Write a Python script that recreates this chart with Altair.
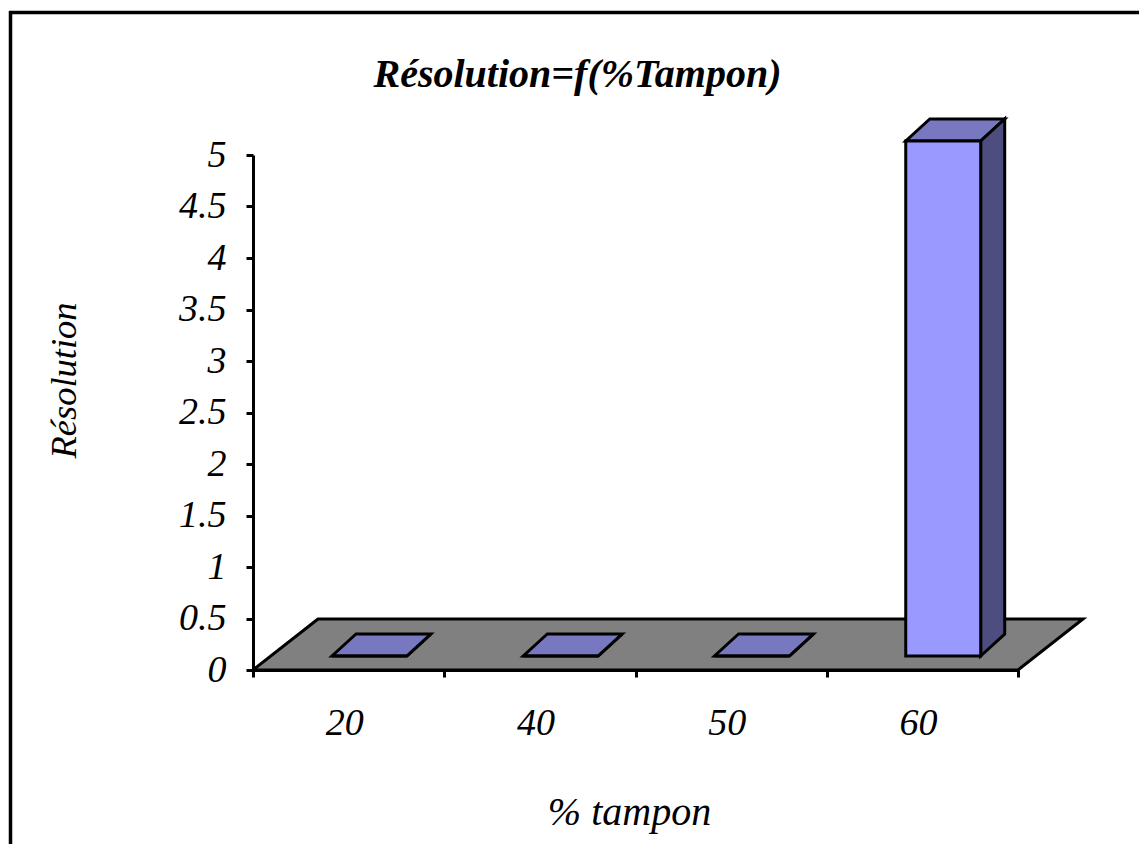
import altair as alt
import pandas as pd

# values
categories = ["20", "40", "50", "60"]
resolution = [0, 0, 0, 5]
y_ticks = [0, 0.5, 1, 1.5, 2, 2.5, 3, 3.5, 4, 4.5, 5]
x_ticks = [0, 1, 2, 3, 4]

# pseudo-3D geometry in data units
FLOOR_DX, FLOOR_DY = 0.34, 0.495
BAR_START, BAR_W = 0.413, 0.392
BAR_BASE = 0.136
BAR_DX, BAR_DY = 0.1255, 0.2136

FONT = "Liberation Serif"
LINE = 3
xs = alt.Scale(domain=[0, 4], nice=False, zero=False)
ys = alt.Scale(domain=[0, 5], nice=False, zero=False)

y_axis = alt.Axis(
    values=y_ticks, format="~g", title="Résolution", grid=False,
    labelFont=FONT, labelFontSize=38, labelFontStyle="italic", labelColor="black",
    labelPadding=20, tickSize=7, tickWidth=LINE, tickColor="black",
    domainWidth=LINE, domainColor="black",
    titleFont=FONT, titleFontSize=36.5, titleFontStyle="italic", titleFontWeight="normal",
    titleColor="black", titleX=-170, titleY=225, titlePadding=0)
x_axis = alt.Axis(
    values=x_ticks, labels=False, title="% tampon", grid=False,
    tickSize=7, tickWidth=LINE, tickColor="black",
    domainWidth=LINE, domainColor="black",
    titleFont=FONT, titleFontSize=40, titleFontStyle="italic", titleFontWeight="normal",
    titleColor="black", titleX=376, titleY=154, titleBaseline="alphabetic")

floor = pd.DataFrame({
    "y": [0, FLOOR_DY], "x": [0, FLOOR_DX], "x2": [4, 4 + FLOOR_DX]})

top_rows, side_rows, front_rows = [], [], []
for i, (c, v) in enumerate(zip(categories, resolution)):
    xl = i + BAR_START
    xr = xl + BAR_W
    front_rows.append({"c": c, "x": xl, "x2": xr, "y": BAR_BASE, "y2": BAR_BASE + v})
    top_rows += [
        {"c": c, "y": BAR_BASE + v, "x": xl, "x2": xr},
        {"c": c, "y": BAR_BASE + v + BAR_DY, "x": xl + BAR_DX, "x2": xr + BAR_DX},
    ]
    side_rows += [
        {"c": c, "x": xr, "y": BAR_BASE, "y2": BAR_BASE + v},
        {"c": c, "x": xr + BAR_DX, "y": BAR_BASE + BAR_DY, "y2": BAR_BASE + BAR_DY + v},
    ]
top = pd.DataFrame(top_rows)
side = pd.DataFrame(side_rows)
front = pd.DataFrame(front_rows)
labels = pd.DataFrame({"c": categories, "x": [i + 0.5 for i in range(4)], "y": [0] * 4})

X = alt.X("x:Q", scale=xs, axis=x_axis)
Y = alt.Y("y:Q", scale=ys, axis=y_axis)

floor_layer = alt.Chart(floor).mark_area(
    orient="horizontal", fill="#808080", stroke="black", strokeWidth=LINE
).encode(y=Y, x=X, x2="x2:Q")

top_layer = alt.Chart(top).mark_area(
    orient="horizontal", fill="#7878C0", stroke="black", strokeWidth=LINE
).encode(y=Y, x=X, x2="x2:Q", detail="c:N")

side_layer = alt.Chart(side).mark_area(
    fill="#4D4D80", stroke="black", strokeWidth=LINE
).encode(x=X, y=Y, y2="y2:Q", detail="c:N")

front_layer = alt.Chart(front).mark_rect(
    fill="#9999FF", stroke="black", strokeWidth=LINE
).encode(x=X, x2="x2:Q", y=Y, y2="y2:Q")

label_layer = alt.Chart(labels).mark_text(
    font=FONT, fontSize=38, fontStyle="italic", color="black", dy=54, dx=-4
).encode(x=X, y=Y, text="c:N")

frame_top = alt.Chart(pd.DataFrame({"a": [0]})).mark_rule(color="black", strokeWidth=3.5).encode(
    x=alt.value(-244), x2=alt.value(900), y=alt.value(-142.5))
frame_left = alt.Chart(pd.DataFrame({"a": [0]})).mark_rule(color="black", strokeWidth=3.5).encode(
    x=alt.value(-242.5), y=alt.value(-144), y2=alt.value(700))

chart = alt.layer(
    frame_top, frame_left, floor_layer, top_layer, side_layer, front_layer, label_layer
).properties(
    width=765, height=515,
    title=alt.Title("Résolution=f(%Tampon)", font=FONT, fontSize=40, fontStyle="italic",
                    fontWeight="bold", color="black", anchor="middle", dx=-58, offset=-118,
                    baseline="alphabetic"),
    padding={"left": 245, "top": 147, "right": 121, "bottom": 174},
    autosize=alt.AutoSizeParams(type="none"),
    background="white",
).configure_view(stroke=None)

chart.save("out.html", embed_options={"renderer": "svg", "actions": False})
